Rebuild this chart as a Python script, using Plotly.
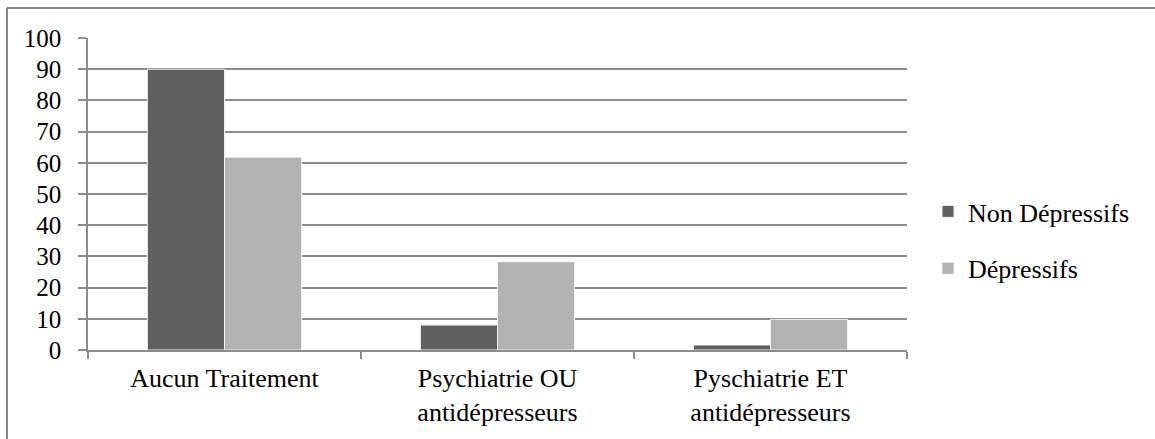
import plotly.graph_objects as go

categories = ["Aucun Traitement", "Psychiatrie OU<br>antidépresseurs", "Pyschiatrie ET<br>antidépresseurs"]
non_depressifs = [90, 8, 1.6]
depressifs = [61.8, 28.3, 9.8]
series_names = ["Non Dépressifs", "Dépressifs"]
y_ticks = list(range(0, 101, 10))

FONT = "Liberation Serif, Times New Roman, serif"
W, H = 1155, 439
L, R, T, B = 88, 907, 38, 350

fig = go.Figure()
fig.add_trace(go.Bar(x=categories, y=non_depressifs, name=series_names[0],
                     marker=dict(color="#5f5f5f", line=dict(color="#f2f2f2", width=1)),
                     legendgroup="a"))
fig.add_trace(go.Bar(x=categories, y=depressifs, name=series_names[1],
                     marker=dict(color="#b2b2b2", line=dict(color="#f2f2f2", width=1)),
                     legendgroup="b"))

pw = R - L
ph = B - T
def px_x(p):
    return (p - L) / pw
def px_y(p):
    return (B - p) / ph

fig.update_layout(
    width=W, height=H,
    margin=dict(l=L, r=W - R, t=T, b=H - B, pad=0),
    paper_bgcolor="white", plot_bgcolor="white",
    barmode="group", bargap=0.435, bargroupgap=0,
    font=dict(family=FONT, size=26, color="black"),
    legend=dict(x=px_x(928), y=px_y(188), xanchor="left", yanchor="top",
                font=dict(family=FONT, size=26, color="black"),
                tracegroupgap=20, itemwidth=30, bgcolor="rgba(0,0,0,0)"),
    shapes=[
        dict(type="line", xref="paper", yref="paper", x0=px_x(7), x1=px_x(7),
             y0=px_y(8), y1=px_y(H + 5), line=dict(color="#8a8a8a", width=2)),
        dict(type="line", xref="paper", yref="paper", x0=px_x(7), x1=px_x(W + 5),
             y0=px_y(8), y1=px_y(8), line=dict(color="#8a8a8a", width=2)),
    ],
)
fig.update_yaxes(range=[0, 100], tickvals=y_ticks, showgrid=True, gridcolor="#8c8c8c",
                 gridwidth=1.5, showline=True, linecolor="#8c8c8c", linewidth=1.5,
                 ticks="outside", ticklen=8, tickcolor="#8c8c8c", tickwidth=1.5,
                 ticklabelstandoff=12, zeroline=False,
                 tickfont=dict(family=FONT, size=25, color="black"))
fig.update_xaxes(showline=True, linecolor="#8c8c8c", linewidth=1.5,
                 ticks="outside", ticklen=7, tickcolor="#8c8c8c", tickwidth=1.5,
                 tickson="boundaries", showgrid=False, ticklabelstandoff=4,
                 tickfont=dict(family=FONT, size=26, color="black"))

fig.write_html("out.html", post_script="document.body.style.margin='0';",
               config={"displayModeBar": False})
